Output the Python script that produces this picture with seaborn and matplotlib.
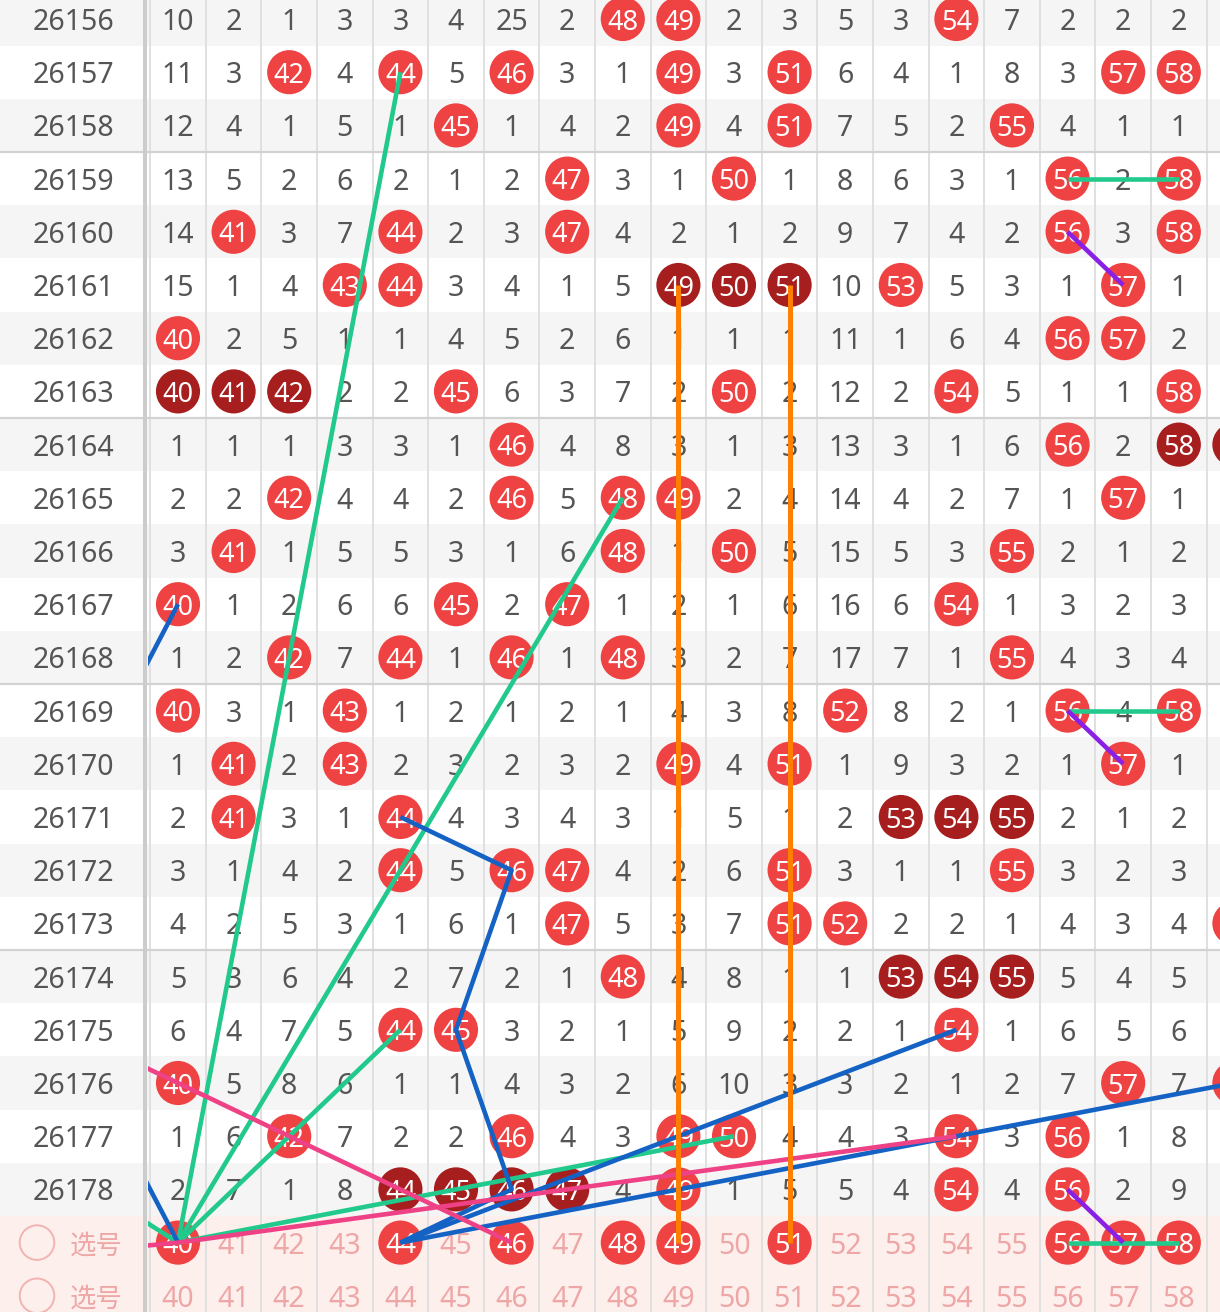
import matplotlib
matplotlib.use('Agg')
import matplotlib.pyplot as plt
import seaborn as sns
import pandas as pd

sns.set_theme(style='white')
plt.rcParams['font.family'] = ['Noto Sans', 'Noto Sans CJK SC', 'DejaVu Sans']

# ---------------- data ----------------
periods = list(range(26156, 26179))
numbers = list(range(40, 59))
# 'o' = drawn number (red ball), 'x' = drawn number in a consecutive run (dark ball),
# integers = omission counts
rows = [
    [10, 2, 1, 3, 3, 4, 25, 2, 'o', 'o', 2, 3, 5, 3, 'o', 7, 2, 2, 2],        # 26156
    [11, 3, 'o', 4, 'o', 5, 'o', 3, 1, 'o', 3, 'o', 6, 4, 1, 8, 3, 'o', 'o'],  # 26157
    [12, 4, 1, 5, 1, 'o', 1, 4, 2, 'o', 4, 'o', 7, 5, 2, 'o', 4, 1, 1],        # 26158
    [13, 5, 2, 6, 2, 1, 2, 'o', 3, 1, 'o', 1, 8, 6, 3, 1, 'o', 2, 'o'],        # 26159
    [14, 'o', 3, 7, 'o', 2, 3, 'o', 4, 2, 1, 2, 9, 7, 4, 2, 'o', 3, 'o'],      # 26160
    [15, 1, 4, 'o', 'o', 3, 4, 1, 5, 'x', 'x', 'x', 10, 'o', 5, 3, 1, 'o', 1],  # 26161
    ['o', 2, 5, 1, 1, 4, 5, 2, 6, 1, 1, 1, 11, 1, 6, 4, 'o', 'o', 2],          # 26162
    ['x', 'x', 'x', 2, 2, 'o', 6, 3, 7, 2, 'o', 2, 12, 2, 'o', 5, 1, 1, 'o'],  # 26163
    [1, 1, 1, 3, 3, 1, 'o', 4, 8, 3, 1, 3, 13, 3, 1, 6, 'o', 2, 'x'],          # 26164
    [2, 2, 'o', 4, 4, 2, 'o', 5, 'o', 'o', 2, 4, 14, 4, 2, 7, 1, 'o', 1],      # 26165
    [3, 'o', 1, 5, 5, 3, 1, 6, 'o', 1, 'o', 5, 15, 5, 3, 'o', 2, 1, 2],        # 26166
    ['o', 1, 2, 6, 6, 'o', 2, 'o', 1, 2, 1, 6, 16, 6, 'o', 1, 3, 2, 3],        # 26167
    [1, 2, 'o', 7, 'o', 1, 'o', 1, 'o', 3, 2, 7, 17, 7, 1, 'o', 4, 3, 4],      # 26168
    ['o', 3, 1, 'o', 1, 2, 1, 2, 1, 4, 3, 8, 'o', 8, 2, 1, 'o', 4, 'o'],       # 26169
    [1, 'o', 2, 'o', 2, 3, 2, 3, 2, 'o', 4, 'o', 1, 9, 3, 2, 1, 'o', 1],       # 26170
    [2, 'o', 3, 1, 'o', 4, 3, 4, 3, 1, 5, 1, 2, 'x', 'x', 'x', 2, 1, 2],       # 26171
    [3, 1, 4, 2, 'o', 5, 'o', 'o', 4, 2, 6, 'o', 3, 1, 1, 'o', 3, 2, 3],       # 26172
    [4, 2, 5, 3, 1, 6, 1, 'o', 5, 3, 7, 'o', 'o', 2, 2, 1, 4, 3, 4],           # 26173
    [5, 3, 6, 4, 2, 7, 2, 1, 'o', 4, 8, 1, 1, 'x', 'x', 'x', 5, 4, 5],         # 26174
    [6, 4, 7, 5, 'o', 'o', 3, 2, 1, 5, 9, 2, 2, 1, 'o', 1, 6, 5, 6],           # 26175
    ['o', 5, 8, 6, 1, 1, 4, 3, 2, 6, 10, 3, 3, 2, 1, 2, 7, 'o', 7],            # 26176
    [1, 6, 'o', 7, 2, 2, 'o', 4, 3, 'o', 'o', 4, 4, 3, 'o', 3, 'o', 1, 8],     # 26177
    [2, 7, 1, 8, 'x', 'x', 'x', 'x', 4, 'o', 1, 5, 5, 4, 'o', 4, 'o', 2, 9],   # 26178
]
col59_hits = {26164: 'x', 26173: 'o', 26176: 'o'}   # partly visible column at right edge
pick_label = '选号'
pick_row1_hits = [40, 44, 46, 48, 49, 51, 56, 57, 58]

# trend lines: (number, period) points; 'S1' / 'S2' are the two 选号 rows
green_lines = [
    [(40, 'S1'), (44, 26157)],
    [(40, 'S1'), (48, 26165)],
    [(40, 'S1'), (44, 26175)],
    [(40, 'S1'), (50, 26177)],
    [(40, 'S1'), (37, 26177)],
    [(56, 26159), (58, 26159)],
    [(56, 26169), (58, 26169)],
    [(56, 'S1'), (58, 'S1')],
]
blue_lines = [
    [(44, 26171), (46, 26172), (45, 26175), (46, 26178), (44, 'S1')],
    [(44, 'S1'), (54, 26175)],
    [(44, 'S1'), (59, 26176)],
    [(40, 26167), (39, 26169)],
    [(40, 'S1'), (39, 26177)],
]
pink_lines = [
    [(38, 26175), (46, 'S1')],
    [(40, 'S1'), (54, 26177)],
    [(40, 'S1'), (30, 'S2')],
]
purple_lines = [
    [(56, 26160), (57, 26161)],
    [(56, 26169), (57, 26170)],
    [(56, 26178), (57, 'S1')],
]
orange_lines = [
    [(49, 26161), (49, 'S1')],
    [(51, 26161), (51, 'S1')],
]

# ---------------- layout ----------------
COLW = 55.6      # px per column
ROWH = 53.2      # px per row
X0PX = 178.0     # px centre of column 40
Y0PX = 19.0      # px centre of first row
W, H = 1220, 1312

row_keys = periods + ['S1', 'S2']
ridx = {k: i for i, k in enumerate(row_keys)}

def px2x(px):
    return 40 + (px - X0PX) / COLW

fig = plt.figure(figsize=(W / 100, H / 100), dpi=100)
ax = fig.add_axes([0, 0, 1, 1])

xl, xr = px2x(0), px2x(W)
yt, yb = -Y0PX / ROWH, (H - Y0PX) / ROWH

def row_color(i, k):
    if isinstance(k, str):
        return '#fdefec'
    return '#f5f5f5' if i % 2 == 0 else '#ffffff'

# backgrounds
for i, k in enumerate(row_keys):
    ax.axhspan(i - 0.5, i + 0.5, color=row_color(i, k), lw=0, zorder=0)

for c in range(40, 61):
    ax.axvline(c - 0.5, color='#e0e0e0', lw=1.4, zorder=1)
for yy in [2.5, 7.5, 12.5, 17.5]:
    ax.axhline(yy, color='#d2d2d2', lw=1.6, zorder=1)

# balls
balls = []
for i, (p, r) in enumerate(zip(periods, rows)):
    for j, v in enumerate(r):
        if v in ('o', 'x'):
            balls.append({'num': numbers[j], 'row': i, 'kind': v})
for p, v in col59_hits.items():
    balls.append({'num': 59, 'row': ridx[p], 'kind': v})
for n in pick_row1_hits:
    balls.append({'num': n, 'row': ridx['S1'], 'kind': 'o'})
df = pd.DataFrame(balls)
sns.scatterplot(data=df, x='num', y='row', hue='kind',
                palette={'o': '#ef4242', 'x': '#a61e1e'},
                s=1010, linewidth=0, legend=False, ax=ax, zorder=3)

TXT = '#555555'
PINK = '#eea6a6'
FS = 20.5
for i, (p, r) in enumerate(zip(periods, rows)):
    for j, v in enumerate(r):
        if v in ('o', 'x'):
            ax.text(numbers[j], i, str(numbers[j]), color='white', fontsize=19.5,
                    ha='center', va='center_baseline', zorder=4)
        else:
            ax.text(numbers[j], i, str(v), color=TXT, fontsize=FS,
                    ha='center', va='center_baseline', zorder=2)
for n in numbers:
    if n in pick_row1_hits:
        ax.text(n, ridx['S1'], str(n), color='white', fontsize=19.5,
                ha='center', va='center_baseline', zorder=4)
    else:
        ax.text(n, ridx['S1'], str(n), color=PINK, fontsize=FS,
                ha='center', va='center_baseline', zorder=2)
    ax.text(n, ridx['S2'], str(n), color=PINK, fontsize=FS,
            ha='center', va='center_baseline', zorder=2)

# trend lines
for group, col, lw in [(green_lines, '#22c98c', 3.3), (blue_lines, '#1462c4', 3.3),
                       (pink_lines, '#ee4186', 3.3), (purple_lines, '#8a1fe6', 3.3),
                       (orange_lines, '#ff8000', 3.6)]:
    for seg in group:
        xs = [a for a, b in seg]
        ys = [ridx[b] for a, b in seg]
        ax.plot(xs, ys, color=col, lw=lw, solid_capstyle='butt',
                solid_joinstyle='round', zorder=5)

# frozen period column
lab_right = px2x(148)
for i, k in enumerate(row_keys):
    ax.fill_between([xl, lab_right], i - 0.5, i + 0.5, color=row_color(i, k),
                    lw=0, zorder=10)
for yy in [2.5, 7.5, 12.5, 17.5]:
    ax.plot([xl, lab_right], [yy, yy], color='#d2d2d2', lw=1.6, zorder=11)
ax.axvline(px2x(145), color='#cccccc', lw=2.9, zorder=11)

for i, p in enumerate(periods):
    ax.text(px2x(73), i, str(p), color=TXT, fontsize=FS,
            ha='center', va='center_baseline', zorder=12)
for k in ['S1', 'S2']:
    ax.scatter([px2x(37)], [ridx[k]], s=620, facecolors='none',
               edgecolors='#f2b3b3', linewidths=1.4, zorder=12)
    ax.text(px2x(96), ridx[k], pick_label, color=PINK, fontsize=19,
            ha='center', va='center_baseline', zorder=12)

ax.set_xlim(xl, xr)
ax.set_ylim(yb, yt)
ax.set_axis_off()
fig.savefig('out.png', dpi=100)
